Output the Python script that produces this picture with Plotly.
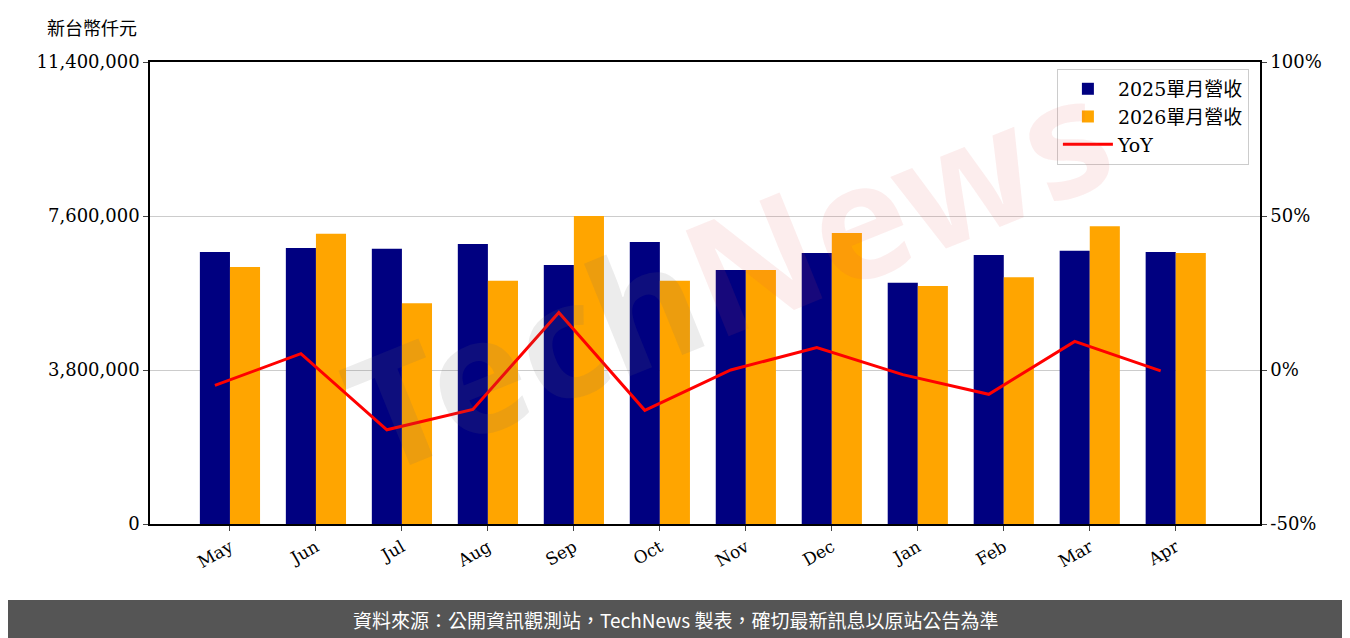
import plotly.graph_objects as go

months = ["May","Jun","Jul","Aug","Sep","Oct","Nov","Dec","Jan","Feb","Mar","Apr"]
rev2025 = [6710000,6810000,6790000,6910000,6390000,6960000,6270000,6690000,5950000,6640000,6740000,6710000]
rev2026 = [6340000,7160000,5450000,6000000,7600000,6000000,6270000,7180000,5870000,6090000,7350000,6690000]
yoy = [-5.0,5.3,-19.4,-12.8,18.7,-13.1,0.0,7.3,-1.5,-7.9,9.3,-0.3]

idx = list(range(len(months)))
w = 0.35
xb = [i - w/2 for i in idx]
xo = [i + w/2 for i in idx]
serif = "DejaVu Serif"
PH = 462

fig = go.Figure()
fig.add_bar(x=xb, y=rev2025, width=w, name="2025單月營收", marker_color="#000080", marker_line_width=0)
fig.add_bar(x=xo, y=rev2026, width=w, name="2026單月營收", marker_color="#FFA500", marker_line_width=0)
fig.add_scatter(x=xb, y=yoy, mode="lines", name="YoY", line=dict(color="red", width=3), yaxis="y2")

fig.update_layout(
    width=1334, height=630, plot_bgcolor="white", paper_bgcolor="white",
    margin=dict(l=142, r=82, t=54, b=114), barmode="overlay",
    font=dict(family=serif + ", Noto Sans CJK TC", size=18, color="black"),
    xaxis=dict(range=[-0.93, 11.98], tickvals=idx, ticktext=months, tickangle=-30,
               showline=True, linecolor="black", linewidth=1.5, mirror=True, ticks="outside",
               tickfont=dict(family=serif, size=17)),
    yaxis=dict(range=[0, 11400000], tickvals=[0,3800000,7600000,11400000],
               ticktext=["0","3,800,000","7,600,000","11,400,000"],
               showline=True, linecolor="black", linewidth=1.5, ticks="outside",
               gridcolor="#cccccc", zeroline=False, tickfont=dict(family=serif, size=18)),
    yaxis2=dict(range=[-50, 100], tickvals=[-50,0,50,100], ticktext=["-50%","0%","50%","100%"],
                overlaying="y", side="right", showgrid=False, ticks="outside", zeroline=False,
                showline=True, linecolor="black", linewidth=1.5, tickfont=dict(family=serif, size=18)),
    legend=dict(x=0.99, y=0.985, xanchor="right", yanchor="top", bordercolor="#cccccc",
                borderwidth=1, bgcolor="rgba(255,255,255,0.8)", itemwidth=50,
                font=dict(family=serif + ", Noto Sans CJK TC", size=19)),
    shapes=[dict(type="rect", xref="paper", yref="paper", x0=-0.2, x1=1.2,
                 y0=-114/PH, y1=-76/PH, fillcolor="#555555", line_width=0, layer="below")],
    annotations=[
        dict(text="新台幣仟元", xref="paper", yref="paper", x=-0.095, y=1 + 35/PH, yanchor="middle",
             showarrow=False, xanchor="left", font=dict(family="Noto Sans CJK TC", size=18)),
        dict(text="資料來源：公開資訊觀測站，TechNews 製表，確切最新訊息以原站公告為準", xref="paper",
             yref="paper", x=0.473, y=-95/PH, yanchor="middle", showarrow=False,
             font=dict(family="Noto Sans CJK TC", size=19, color="white")),
        dict(text="<span style='color:rgba(110,110,110,0.13)'>Tech</span><span style='color:rgba(230,80,80,0.1)'>News</span>",
             xref="paper", yref="paper", x=0.52, y=0.55, showarrow=False,
             textangle=-22, font=dict(family="Noto Sans", size=160, weight="bold")),
    ],
)
fig.write_html("out.html")
